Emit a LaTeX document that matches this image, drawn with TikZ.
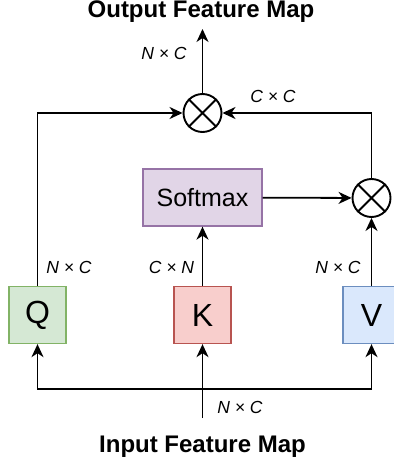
\documentclass[tikz,border=0pt]{standalone}
\usepackage{fontspec}
\setmainfont{Liberation Sans}
\usepackage{xcolor}
\usepackage{tikz}
\usetikzlibrary{positioning,arrows.meta,calc}
\definecolor{QFill}{HTML}{D5E8D4}
\definecolor{QLine}{HTML}{82B366}
\definecolor{KFill}{HTML}{F8CECC}
\definecolor{KLine}{HTML}{B85450}
\definecolor{VFill}{HTML}{DAE8FC}
\definecolor{VLine}{HTML}{6C8EBF}
\definecolor{SmFill}{HTML}{E1D5E7}
\definecolor{SmLine}{HTML}{9673A6}

\begin{document}
\begin{tikzpicture}[x=1pt,y=1pt,
                    every node/.style={inner sep=0pt},
                    ar/.style={-{Stealth[length=13pt,width=12pt,inset=4pt]},line width=1.8pt},
                    ln/.style={line width=1.8pt},
                    qkv/.style={draw,line width=1.3pt,minimum width=57pt,minimum height=57pt,
                                font=\fontsize{32}{36}\selectfont},
                    mul/.style={draw,circle,line width=1.9pt,minimum size=38pt},
                    dim/.style={font=\fontsize{17.5}{20}\selectfont\itshape},
                    ttl/.style={font=\fontsize{24}{28}\selectfont\bfseries,anchor=base}]
      \useasboundingbox (0,0) rectangle (393,-465);
      % titles
      \node[ttl] (outttl) at (201,-18) {Output Feature Map};
      \node[ttl] (inttl) at (202.5,-452) {Input Feature Map};
      % Q, K, V
      \node[qkv,draw=QLine,fill=QFill] (Q) at (37.5,-315) {Q};
      \node[qkv,draw=KLine,fill=KFill] (K) at (202.5,-315) {K};
      \node[qkv,draw=VLine,fill=VFill] (V) at (371.5,-315) {V};
      % softmax and products
      \node[draw=SmLine,fill=SmFill,line width=1.3pt,minimum width=119pt,minimum height=57pt,
            font=\fontsize{25}{30}\selectfont] (sm) at (202.5,-197.5) {Softmax};
      \node[mul] (m1) at (202.5,-113) {};
      \node[mul] (m2) at (371.5,-198) {};
      \foreach \m in {m1,m2}{
        \draw[line width=1.9pt] (\m.45) -- (\m.225) (\m.135) -- (\m.315);
      }
      \coordinate (top) at (202.5,-29);
      \coordinate (src) at (202.5,-418);
      \coordinate (fork) at (202.5,-389);
      % connectors
      \draw[ar] (m1) -- (top);
      \draw[ar] (Q.north) |- (m1.west);
      \draw[ar] (m2.north) |- (m1.east);
      \draw[ar] (K) -- (sm);
      \draw[ar] (sm) -- (m2);
      \draw[ar] (V) -- (m2);
      \draw[ln] (src) -- (fork);
      \draw[ar] (fork) -| (Q.south);
      \draw[ar] (fork) -- (K.south);
      \draw[ar] (fork) -| (V.south);
      % dimensions
      \node[dim] (d1) at (164,-53) {N × C};
      \node[dim] (d2) at (273,-96) {C × C};
      \node[dim] (d3) at (69,-267) {N × C};
      \node[dim] (d4) at (171.5,-267) {C × N};
      \node[dim] (d5) at (338,-267) {N × C};
      \node[dim] (d6) at (240,-407) {N × C};
    \end{tikzpicture}
\end{document}
